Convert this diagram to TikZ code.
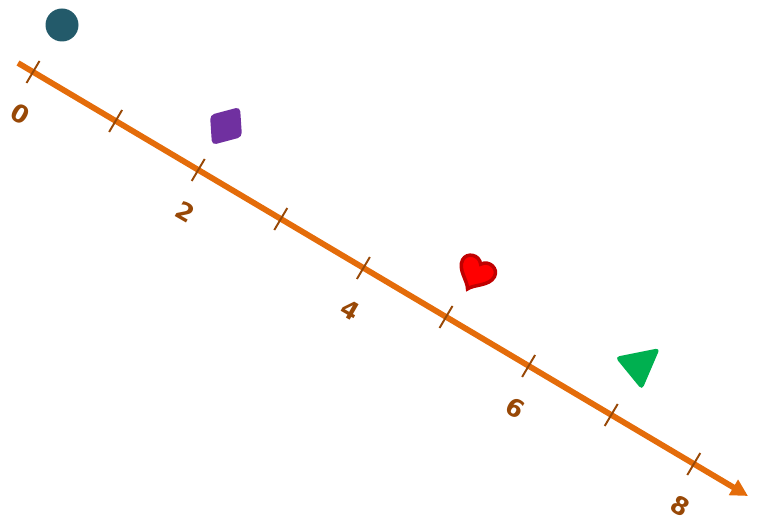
\documentclass[tikz,border=0pt]{standalone}
\usepackage{fontspec}
\setsansfont{DejaVu Sans}
\usepackage{tikz}
\usetikzlibrary{arrows.meta,calc}
\definecolor{axisorange}{RGB}{228,108,10}
\definecolor{tickbrown}{RGB}{152,72,6}
\definecolor{dotteal}{RGB}{35,90,106}
\definecolor{diampurple}{RGB}{112,48,160}
\definecolor{heartred}{RGB}{255,0,0}
\definecolor{heartrim}{RGB}{192,0,0}
\definecolor{trigreen}{RGB}{0,176,80}
\tikzset{
  numline/.style={-{Triangle[length=3.4mm,width=3.4mm]},draw=axisorange,line width=3.3pt},
  tickmk/.style={draw=tickbrown,line width=1.1pt},
  ticklbl/.style={text=tickbrown,font=\sffamily\bfseries\fontsize{14}{16}\selectfont,
    rotate=-30,inner sep=0pt},
  shp/.style={rounded corners=2.5pt},
}
\begin{document}
\begin{tikzpicture}[x=0.02cm,y=-0.02cm]
  % pixel frame of the picture, y running down
  \useasboundingbox (0,0) rectangle (757,523);
  % --- the number line ---
  \coordinate (lnstart) at (18,63);
  \coordinate (lnend) at (748,496);
  \draw[numline] (lnstart) -- (lnend);
  \foreach \i in {0,...,8} {
    \coordinate (t\i) at ({33+82.6*\i},{72+49*\i});
    \draw[tickmk] ($(t\i)+(6.5,-11)$) -- ($(t\i)+(-6.5,11)$);
  }
  \foreach \i in {0,2,4,6,8}
    \node[ticklbl] (lbl\i) at ($(t\i)+(-13,42)$) {\i};
  % --- the markers ---
  \fill[dotteal] (62,25) circle (16.5);
  \fill[diampurple,shp] (210,115) -- (240,107) -- (242,137) -- (212,145) -- cycle;
  \begin{scope}[shift={(476,273)},x=0.36cm,y=0.36cm,rotate=-28]
    \filldraw[fill=heartred,draw=heartrim,line width=2pt]
      (0,-1) .. controls (-0.2,-0.6) and (-1,-0.3) .. (-1,0.3)
      .. controls (-1,0.8) and (-0.3,1) .. (0,0.55)
      .. controls (0.3,1) and (1,0.8) .. (1,0.3)
      .. controls (1,-0.3) and (0.2,-0.6) .. (0,-1) -- cycle;
  \end{scope}
  \fill[trigreen,shp] (615,357) -- (660,348) -- (642,390) -- cycle;
\end{tikzpicture}
\end{document}
